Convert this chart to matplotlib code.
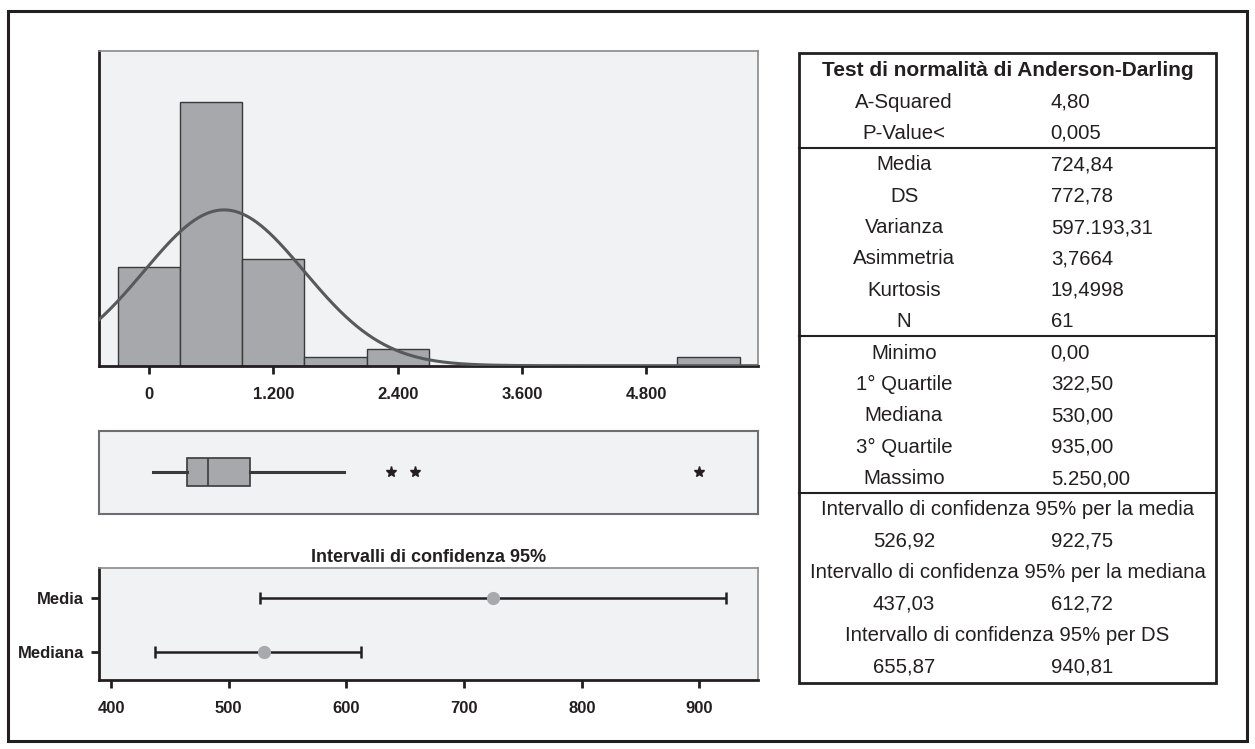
import numpy as np
import matplotlib
matplotlib.use("Agg")
import matplotlib.pyplot as plt
from matplotlib.patches import Rectangle

# ---------------- data ----------------
bin_centers = [0, 600, 1200, 1800, 2400, 5400]
bin_counts = [12, 32, 13, 1, 2, 1]
bin_width = 600
hist_ticks = [0, 1200, 2400, 3600, 4800]
hist_ticklabels = ["0", "1.200", "2.400", "3.600", "4.800"]

n_obs = 61
mean_val = 724.84
sd_val = 772.78

box_q1 = 322.5
box_med = 530.0
box_q3 = 935.0
box_whislo = 0.0
box_whishi = 1840.0
box_outliers = [2290, 2520, 5250]

ci_labels = ["Media", "Mediana"]
ci_center = [724.84, 530.0]
ci_low = [526.92, 437.03]
ci_high = [922.75, 612.72]
ci_ticks = [400, 500, 600, 700, 800, 900]

table_header = "Test di normalità di Anderson-Darling"
table_rows = [
    ("A-Squared", "4,80"),
    ("P-Value<", "0,005"),
    None,
    ("Media", "724,84"),
    ("DS", "772,78"),
    ("Varianza", "597.193,31"),
    ("Asimmetria", "3,7664"),
    ("Kurtosis", "19,4998"),
    ("N", "61"),
    None,
    ("Minimo", "0,00"),
    ("1° Quartile", "322,50"),
    ("Mediana", "530,00"),
    ("3° Quartile", "935,00"),
    ("Massimo", "5.250,00"),
    None,
    ("Intervallo di confidenza 95% per la media",),
    ("526,92", "922,75"),
    ("Intervallo di confidenza 95% per la mediana",),
    ("437,03", "612,72"),
    ("Intervallo di confidenza 95% per DS",),
    ("655,87", "940,81"),
]

# ---------------- style ----------------
W, H = 1255, 749
BG = "#f1f2f4"
BAR = "#a6a8ab"
DARK = "#231f20"
GREY_EDGE = "#8a8a8a"
TICK_FONT = ["Liberation Sans Narrow", "Liberation Sans", "DejaVu Sans"]
TABLE_FONT = ["Liberation Sans", "DejaVu Sans"]
TABLE_SIZE = 14.7

fig = plt.figure(figsize=(W / 100, H / 100), dpi=100)
fig.patch.set_facecolor("white")


def px_axes(left, top, right, bottom):
    return fig.add_axes([left / W, (H - bottom) / H, (right - left) / W, (bottom - top) / H])


def style_panel(ax, strong_left=True, strong_bottom=True):
    ax.set_facecolor(BG)
    for side in ["top", "right", "left", "bottom"]:
        ax.spines[side].set_color(GREY_EDGE)
        ax.spines[side].set_linewidth(1.2)
    if strong_left:
        ax.spines["left"].set_color(DARK)
        ax.spines["left"].set_linewidth(2.0)
    if strong_bottom:
        ax.spines["bottom"].set_color(DARK)
        ax.spines["bottom"].set_linewidth(2.0)


# ---------------- histogram ----------------
ax_h = px_axes(99.3, 50.7, 757.7, 365.7)
style_panel(ax_h)
ax_h.bar(bin_centers, bin_counts, width=bin_width, color=BAR, edgecolor="#3a3a3a",
         linewidth=1.0, zorder=2)
xmin, xmax = -479, 5874
xs = np.linspace(xmin, xmax, 600)
pdf = n_obs * bin_width / (sd_val * np.sqrt(2 * np.pi)) * np.exp(-0.5 * ((xs - mean_val) / sd_val) ** 2)
ax_h.plot(xs, pdf, color="#58595b", lw=2.2, zorder=3)
ax_h.set_xlim(xmin, xmax)
ax_h.set_ylim(0, 38.2)
ax_h.set_yticks([])
ax_h.set_xticks(hist_ticks)
ax_h.set_xticklabels(hist_ticklabels)
ax_h.tick_params(axis="x", direction="out", length=6, width=2, color=DARK, pad=9)
for t in ax_h.get_xticklabels():
    t.set_fontfamily(TICK_FONT)
    t.set_fontweight("bold")
    t.set_fontsize(12)
    t.set_color(DARK)

# ---------------- boxplot ----------------
ax_b = px_axes(99.3, 431, 757.7, 513.7)
style_panel(ax_b, strong_left=False, strong_bottom=False)
for side in ["top", "right", "left", "bottom"]:
    ax_b.spines[side].set_color("#6d6e71")
    ax_b.spines[side].set_linewidth(1.5)
stats = [dict(med=box_med, q1=box_q1, q3=box_q3, whislo=box_whislo,
              whishi=box_whishi, fliers=box_outliers)]
bx_min, bx_max = -520, 5820
ax_b.bxp(stats, positions=[0.5], widths=0.34, orientation="horizontal",
         showcaps=False, patch_artist=True,
         boxprops=dict(facecolor=BAR, edgecolor="#3a3a3a", linewidth=1.2),
         medianprops=dict(color="#3a3a3a", linewidth=1.2),
         whiskerprops=dict(color="#3a3a3a", linewidth=2.2),
         flierprops=dict(marker="*", markersize=8, markerfacecolor=DARK,
                         markeredgecolor=DARK, linestyle="none"))
ax_b.set_xlim(bx_min, bx_max)
ax_b.set_ylim(0, 1)
ax_b.set_xticks([])
ax_b.set_yticks([])

# ---------------- confidence intervals ----------------
ax_c = px_axes(99.3, 568, 758.3, 680.3)
style_panel(ax_c)
ypos = np.array([1.0, 0.0])
cen = np.array(ci_center)
lo = np.array(ci_low)
hi = np.array(ci_high)
ax_c.errorbar(cen, ypos, xerr=[cen - lo, hi - cen], fmt="none", ecolor=DARK,
              elinewidth=1.8, capsize=4.3, capthick=1.8, zorder=2)
ax_c.plot(cen, ypos, "o", color="#a7a9ac", markersize=8.5, zorder=3)
ax_c.set_xlim(390, 950)
ax_c.set_ylim(-0.515, 1.546)
ax_c.set_yticks(ypos)
ax_c.set_yticklabels(ci_labels)
ax_c.set_xticks(ci_ticks)
ax_c.tick_params(axis="x", direction="out", length=6, width=2, color=DARK, pad=9)
ax_c.tick_params(axis="y", direction="out", length=6, width=2, color=DARK, pad=5)
for t in ax_c.get_xticklabels() + ax_c.get_yticklabels():
    t.set_fontfamily(TICK_FONT)
    t.set_fontweight("bold")
    t.set_fontsize(12)
    t.set_color(DARK)
ax_c.set_title("Intervalli di confidenza 95%", fontfamily=TICK_FONT, fontweight="bold",
               fontsize=13, color=DARK, pad=4)

# ---------------- table & frame overlay (pixel coordinates) ----------------
ov = fig.add_axes([0, 0, 1, 1], zorder=-1)
ov.set_xlim(0, W)
ov.set_ylim(H, 0)
ov.axis("off")
ov.add_patch(Rectangle((7.7, 10.5), 1239.5, 730.5, fill=False, edgecolor=DARK, lw=2.2))

t_left, t_right, t_top, t_bottom = 799, 1216, 52.7, 683.3
ov.add_patch(Rectangle((t_left, t_top), t_right - t_left, t_bottom - t_top,
                       fill=False, edgecolor=DARK, lw=2.0))
row0 = 70.7
pitch = 31.37
lab_x = 904
val_x = 1050.7
mid_x = (t_left + t_right) / 2
ov.text(mid_x, row0, table_header, ha="center", va="center", fontsize=15,
        fontweight="bold", fontfamily=TABLE_FONT, color=DARK)
i = 1
for r in table_rows:
    y = row0 + pitch * i
    if r is None:
        ysep = y - pitch / 2 - 1.5
        ov.plot([t_left, t_right], [ysep, ysep], color=DARK, lw=1.5)
        continue
    if len(r) == 1:
        ov.text(mid_x, y, r[0], ha="center", va="center", fontsize=TABLE_SIZE,
                fontfamily=TABLE_FONT, color=DARK)
    else:
        ov.text(lab_x, y, r[0], ha="center", va="center", fontsize=TABLE_SIZE,
                fontfamily=TABLE_FONT, color=DARK)
        ov.text(val_x, y, r[1], ha="left", va="center", fontsize=TABLE_SIZE,
                fontfamily=TABLE_FONT, color=DARK)
    i += 1

fig.savefig("out.png", dpi=100, facecolor="white")
